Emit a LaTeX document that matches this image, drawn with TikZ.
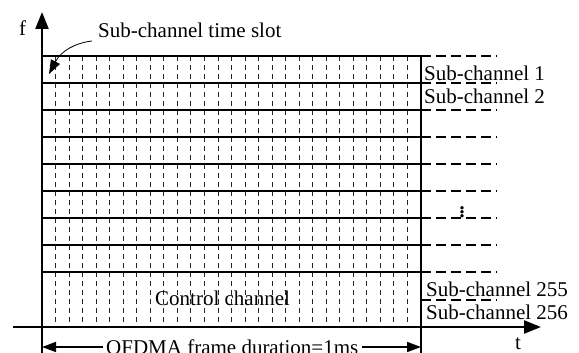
\documentclass[tikz,border=0pt]{standalone}
\usepackage{fontspec}
\setmainfont{Liberation Serif}
\usetikzlibrary{arrows.meta}
\begin{document}
\begin{tikzpicture}[x=1pt,y=-1pt,
  lbl/.style={font=\fontsize{21}{24}\selectfont, inner sep=0pt, anchor=base west},
  gridv/.style={line width=0.9pt, dash pattern=on 5pt off 4pt, black!85},
  gridh/.style={line width=1.6pt},
  ext/.style={line width=1.4pt, dash pattern=on 10pt off 5pt},
  axisline/.style={line width=2.4pt},
  bighead/.style={-{Triangle[length=17pt,width=13pt]}},
  durarrow/.style={line width=1.6pt, -{Triangle[length=14pt,width=10pt]}},
  callout/.style={line width=0.8pt, -{Triangle[length=14pt,width=10pt]}}
]
\useasboundingbox (0,0) rectangle (579,353);

% vertical dashed time-slot lines
\foreach \i in {1,...,27}
  \draw[gridv] ({42+\i*13.536},56) -- ({42+\i*13.536},327);

% horizontal sub-channel lines
\foreach \y in {56,83,110,137,164,191,218,245,272}
  \draw[gridh] (42,\y) -- (421,\y);

% dashed extensions
\foreach \y in {56,83,110,137,164,191,218,245,272,300}
  \draw[ext] (421,\y) -- (497,\y);

% coordinates for axes
\coordinate (fbot) at (42,356);
\coordinate (ftop) at (42,12);
\coordinate (tleft) at (13,327);
\coordinate (tright) at (541,327);
\coordinate (rtop) at (421,56);
\coordinate (rbot) at (421,356);

\draw[axisline] (rtop) -- (rbot);
\draw[axisline,bighead] (fbot) -- (ftop);
\draw[axisline,bighead] (tleft) -- (tright);

% labels
\node[lbl] (f) at (19,36) {f};
\node[lbl] (t) at (515,349) {t};
\node[lbl] (slot) at (98,38) {Sub-channel time slot};
\node[lbl] (s1) at (424,81) {Sub-channel 1};
\node[lbl] (s2) at (424,104) {Sub-channel 2};
\node[lbl] (s255) at (426,296) {Sub-channel 255};
\node[lbl] (s256) at (426,319) {Sub-channel 256};
\node[lbl] (ctrl) at (155,305) {Control channel};
\node[inner sep=0pt, font=\fontsize{28}{28}\selectfont] (dots) at (462,209) {$\vdots$};

% callout arrow
\coordinate (slotstart) at (92,41);
\coordinate (slottip) at (49,74);
\draw[callout] (slotstart) .. controls (75,43) and (61,51) .. (slottip);

% frame duration
\node[font=\fontsize{21}{24}\selectfont, inner sep=3pt, anchor=west] (dur) at (103,347) {OFDMA frame duration=1ms};
\coordinate (durL) at (42,347);
\coordinate (durR) at (421,347);
\draw[durarrow] (dur.west) -- (durL);
\draw[durarrow] (dur.east) -- (durR);
\end{tikzpicture}
\end{document}
